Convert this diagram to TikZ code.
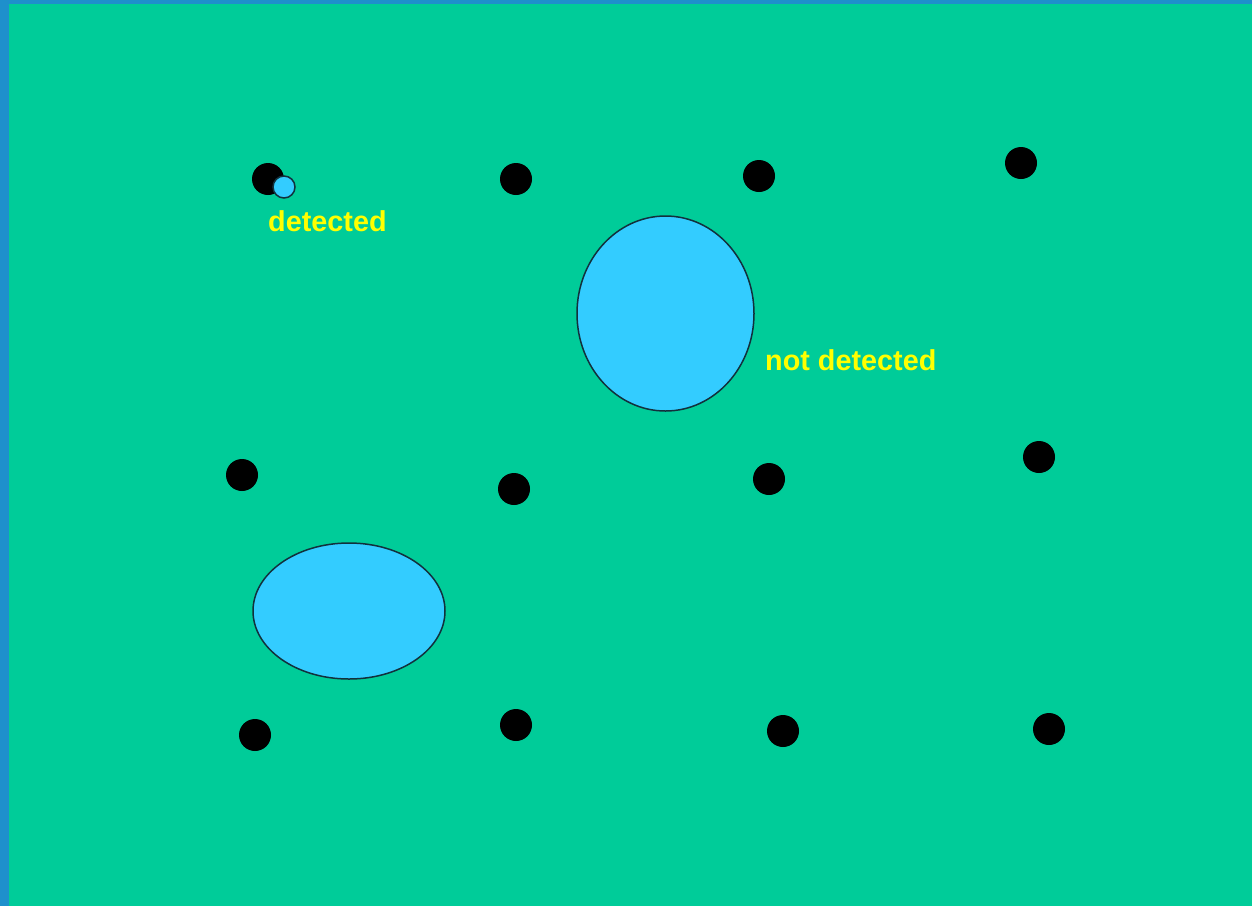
\documentclass[tikz,border=0pt]{standalone}
\usepackage{fontspec}
\setmainfont{Liberation Sans}
\definecolor{bggreen}{HTML}{00CC99}
\definecolor{edgeblue}{HTML}{1E90CC}
\definecolor{lake}{HTML}{33CCFF}
\definecolor{lakeline}{HTML}{12303C}
\definecolor{labelyellow}{HTML}{FFFF00}
\tikzset{
  sensor/.style={circle, fill=black, draw=none, minimum size=32pt, inner sep=0pt},
  lakebox/.style={fill=lake, draw=lakeline, line width=1.5pt},
  lbl/.style={text=labelyellow, font=\fontsize{28.8}{34}\selectfont\bfseries, anchor=base west, inner sep=0pt}
}
\begin{document}
\begin{tikzpicture}[x=1pt,y=-1pt]
\useasboundingbox (0,0) rectangle (1252,906);
\fill[edgeblue] (0,0) rectangle (1252,906);
\fill[bggreen] (9,4) rectangle (1252,906);
% sensors
\node[sensor] (s11) at (268,179) {};
\node[sensor] (s12) at (516,179) {};
\node[sensor] (s13) at (759,176) {};
\node[sensor] (s14) at (1021,163) {};
\node[sensor] (s21) at (242,475) {};
\node[sensor] (s22) at (514,489) {};
\node[sensor] (s23) at (769,479) {};
\node[sensor] (s24) at (1039,457) {};
\node[sensor] (s31) at (255,735) {};
\node[sensor] (s32) at (516,725) {};
\node[sensor] (s33) at (783,731) {};
\node[sensor] (s34) at (1049,729) {};
% objects
\draw[lakebox] (284,187) circle[radius=11];
\draw[lakebox] (665.5,313.5) ellipse[x radius=88.5, y radius=97.5];
\draw[lakebox] (349,611) ellipse[x radius=96, y radius=68];
% labels
\node[lbl] (l1) at (268,231) {detected};
\node[lbl] (l2) at (765,370) {not detected};
\end{tikzpicture}
\end{document}
